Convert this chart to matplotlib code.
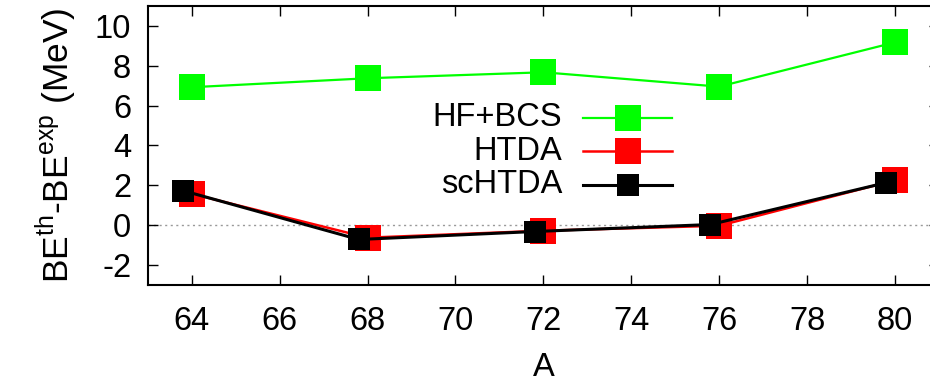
import matplotlib
matplotlib.use("Agg")
import matplotlib.pyplot as plt
from matplotlib.lines import Line2D

plt.rcParams["font.family"] = ["Liberation Sans", "DejaVu Sans"]
plt.rcParams["mathtext.fontset"] = "custom"
plt.rcParams["mathtext.rm"] = "Liberation Sans"
plt.rcParams["axes.unicode_minus"] = False

# mass number A
a = [64, 68, 72, 76, 80]
a_sc = [63.8, 67.8, 71.8, 75.8, 79.8]

# BE(th) - BE(exp), MeV
hf_bcs = [6.92, 7.37, 7.67, 6.95, 9.17]
htda = [1.57, -0.63, -0.28, -0.03, 2.25]
schtda = [1.73, -0.72, -0.32, 0.03, 2.13]

labels = ["HF+BCS", "HTDA", "scHTDA"]
colors = ["#00ff00", "#ff0000", "#000000"]

FS = 23.5

fig = plt.figure(figsize=(9.3, 3.84), dpi=100)
ax = fig.add_axes([0.159, 0.258, 0.8505, 0.7266])

ax.axhline(0, color="#999999", lw=1.0, ls=(0, (1.5, 2.5)), zorder=1)

ax.plot(a, hf_bcs, color=colors[0], lw=1.6, marker="s", ms=19,
        mew=0, zorder=3)
ax.plot(a, htda, color=colors[1], lw=1.8, marker="s", ms=19,
        mew=0, zorder=3)
ax.plot(a_sc, schtda, color=colors[2], lw=2.2, marker="s", ms=16,
        mew=0, zorder=4)

ax.set_xlim(63, 81)
ax.set_ylim(-3, 11)
ax.set_xticks(range(64, 81, 2))
ax.set_yticks(range(-2, 11, 2))

for s in ax.spines.values():
    s.set_linewidth(1.5)
ax.tick_params(direction="in", length=7, width=1, top=True, right=True,
               labelsize=FS)
ax.tick_params(axis="x", pad=15)
ax.tick_params(axis="y", pad=12)

ax.set_xlabel("A", fontsize=FS, labelpad=11)
ax.set_ylabel(r"BE$^{\rm th}$-BE$^{\rm exp}$ (MeV)", fontsize=25.5,
              labelpad=12)

# key: right-aligned text followed by a line sample with its marker
key_y = [118, 151, 185]
msizes = [19, 19, 16]
lws = [1.6, 1.8, 2.2]
for lab, col, yy, m, w in zip(labels, colors, key_y, msizes, lws):
    yf = 1 - yy / 384
    fig.text(562 / 930, yf, lab, ha="right", va="center", fontsize=FS)
    fig.add_artist(Line2D([583 / 930, 672 / 930], [yf, yf], color=col,
                          lw=w, transform=fig.transFigure))
    fig.add_artist(Line2D([627.5 / 930], [yf], color=col, marker="s",
                          ms=m, mew=0, transform=fig.transFigure))

fig.savefig("out.png", dpi=100)
